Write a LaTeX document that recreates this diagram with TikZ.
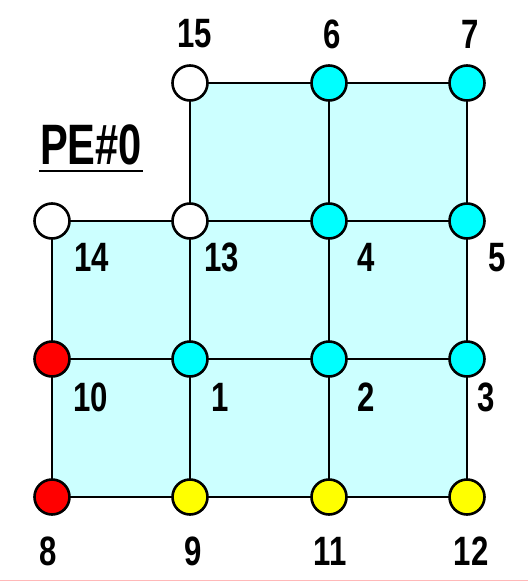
\documentclass[tikz,border=0pt]{standalone}
\usepackage{fontspec}
\usepackage{graphicx}
\setmainfont{Liberation Sans}
\definecolor{paleC}{HTML}{CCFFFF}
\definecolor{nodeC}{HTML}{00FFFF}
\definecolor{nodeR}{HTML}{FF0000}
\definecolor{nodeY}{HTML}{FFFF00}
\definecolor{pinkline}{HTML}{FFB8B8}
\tikzset{
  pt/.style={circle, draw=black, line width=2.6pt, minimum size=35pt, inner sep=0pt},
  edge/.style={draw=black, line width=2.6pt},
  lbl/.style={font=\bfseries\fontsize{41}{41}\selectfont, inner sep=0pt},
}
\newcommand{\nlab}[1]{\scalebox{0.76}[1]{#1}}
\begin{document}
\begin{tikzpicture}[x=1pt,y=-1pt]
\useasboundingbox (0,0) rectangle (528,581);
\fill[white] (0,0) rectangle (528,581);
\draw[pinkline, line width=1pt] (0,580) -- (528,580);
% filled region
\fill[paleC] (52,221) -- (190,221) -- (190,83) -- (467,83) -- (467,497) -- (52,497) -- cycle;
% coordinates
\coordinate (c15) at (190,83);
\coordinate (c6) at (329,83);
\coordinate (c7) at (467,83);
\coordinate (c14) at (52,221);
\coordinate (c13) at (190,221);
\coordinate (c4) at (329,221);
\coordinate (c5) at (467,221);
\coordinate (c10) at (52,359);
\coordinate (c1) at (190,359);
\coordinate (c2) at (329,359);
\coordinate (c3) at (467,359);
\coordinate (c8) at (52,497);
\coordinate (c9) at (190,497);
\coordinate (c11) at (329,497);
\coordinate (c12) at (467,497);
% edges
\draw[edge] (c15) -- (c6) -- (c7);
\draw[edge] (c14) -- (c13) -- (c4) -- (c5);
\draw[edge] (c10) -- (c1) -- (c2) -- (c3);
\draw[edge] (c8) -- (c9) -- (c11) -- (c12);
\draw[edge] (c14) -- (c10) -- (c8);
\draw[edge] (c15) -- (c13) -- (c1) -- (c9);
\draw[edge] (c6) -- (c4) -- (c2) -- (c11);
\draw[edge] (c7) -- (c5) -- (c3) -- (c12);
% points
\node[pt, fill=white] (n15) at (c15) {};
\node[pt, fill=nodeC] (n6) at (c6) {};
\node[pt, fill=nodeC] (n7) at (c7) {};
\node[pt, fill=white] (n14) at (c14) {};
\node[pt, fill=white] (n13) at (c13) {};
\node[pt, fill=nodeC] (n4) at (c4) {};
\node[pt, fill=nodeC] (n5) at (c5) {};
\node[pt, fill=nodeR] (n10) at (c10) {};
\node[pt, fill=nodeC] (n1) at (c1) {};
\node[pt, fill=nodeC] (n2) at (c2) {};
\node[pt, fill=nodeC] (n3) at (c3) {};
\node[pt, fill=nodeR] (n8) at (c8) {};
\node[pt, fill=nodeY] (n9) at (c9) {};
\node[pt, fill=nodeY] (n11) at (c11) {};
\node[pt, fill=nodeY] (n12) at (c12) {};
% labels
\node[lbl] (l15) at (195,34) {\nlab{15}};
\node[lbl] (l6) at (332,34) {\nlab{6}};
\node[lbl] (l7) at (470,34) {\nlab{7}};
\node[lbl] (l14) at (92,257) {\nlab{14}};
\node[lbl] (l13) at (222,257) {\nlab{13}};
\node[lbl] (l4) at (366,257) {\nlab{4}};
\node[lbl] (l5) at (497,258) {\nlab{5}};
\node[lbl] (l10) at (91,397) {\nlab{10}};
\node[lbl] (l1) at (220,397) {\nlab{1}};
\node[lbl] (l2) at (366,397) {\nlab{2}};
\node[lbl] (l3) at (486,397) {\nlab{3}};
\node[lbl] (l8) at (48,551) {\nlab{8}};
\node[lbl] (l9) at (193,551) {\nlab{9}};
\node[lbl] (l11) at (330,551) {\nlab{11}};
\node[lbl] (l12) at (471,551) {\nlab{12}};
% title
\node[font=\bfseries\fontsize{57}{57}\selectfont, inner sep=0pt] (pe) at (91,145) {\scalebox{0.73}[1]{PE\#0}};
\coordinate (ulA) at (39,171);
\coordinate (ulB) at (143,171);
\draw[line width=2.6pt] (ulA) -- (ulB);
\end{tikzpicture}
\end{document}
